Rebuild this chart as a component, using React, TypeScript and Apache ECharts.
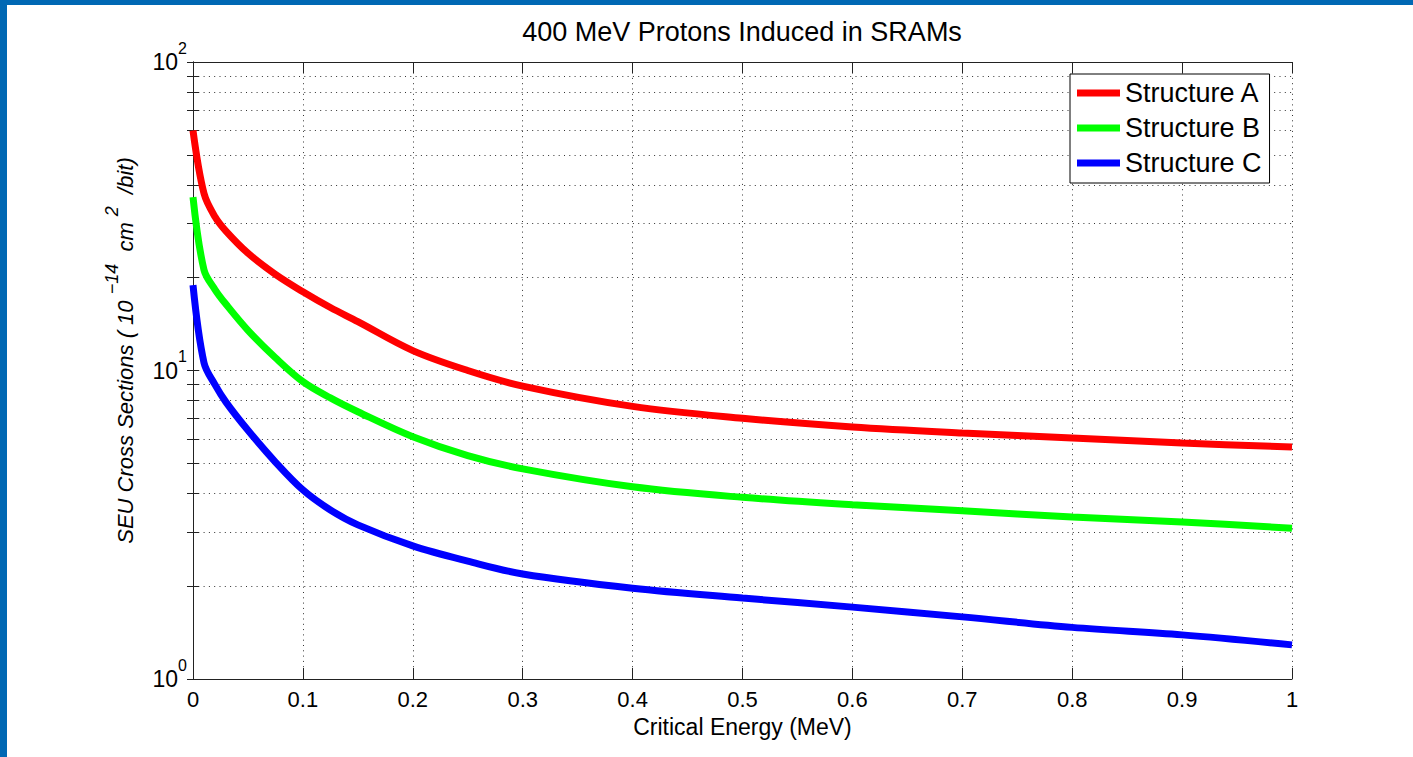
import React, { useEffect, useRef } from "react";
import * as echarts from "echarts";

const titleText = "400 MeV Protons Induced in SRAMs";
const xAxisTitle = "Critical Energy (MeV)";
const seriesNames = ["Structure A", "Structure B", "Structure C"];
const seriesColors = ["#ff0000", "#00ff00", "#0000ff"];

const criticalEnergy = [0, 0.01, 0.02, 0.03, 0.05, 0.075, 0.1, 0.125, 0.15, 0.2, 0.25, 0.3, 0.4, 0.5, 0.6, 0.7, 0.8, 0.9, 1.0];
const structureA = [60, 37.5, 31.5, 28.3, 24.0, 20.5, 18.0, 16.0, 14.4, 11.6, 10.0, 8.9, 7.65, 7.0, 6.56, 6.27, 6.04, 5.82, 5.65];
const structureB = [36.5, 21.2, 18.3, 16.4, 13.5, 11.0, 9.2, 8.15, 7.35, 6.1, 5.3, 4.8, 4.2, 3.88, 3.67, 3.51, 3.35, 3.23, 3.08];
const structureC = [18.9, 10.6, 9.0, 7.9, 6.4, 5.05, 4.1, 3.53, 3.16, 2.7, 2.41, 2.19, 1.97, 1.83, 1.71, 1.59, 1.47, 1.39, 1.29];

const FONT = "'Liberation Sans', Arial, Helvetica, sans-serif";
const dotted = { type: [1, 4.3] as number[], color: "#333", width: 1 };

export default function App() {
  const ref = useRef<HTMLDivElement>(null);
  useEffect(() => {
    if (!ref.current) return;
    const chart = echarts.init(ref.current, null, { renderer: "svg" });
    const allSeries = [structureA, structureB, structureC];
    const option: any = {
      animation: false,
      backgroundColor: "#ffffff",
      textStyle: { fontFamily: FONT, color: "#000" },
      title: {
        text: titleText,
        left: 742,
        top: 18,
        textAlign: "center",
        padding: 0,
        textStyle: { fontFamily: FONT, fontSize: 27, fontWeight: "normal", color: "#000" },
      },
      graphic: [
        { type: "rect", shape: { x: 0, y: 0, width: 1413, height: 5 }, style: { fill: "#0068b4" }, z: 100 },
        { type: "rect", shape: { x: 0, y: 0, width: 7, height: 757 }, style: { fill: "#0068b4" }, z: 100 },
      ],
      legend: {
        orient: "vertical",
        left: 1070,
        top: 74,
        padding: [5, 8, 6, 7],
        itemGap: 7,
        itemWidth: 43,
        itemHeight: 7,
        icon: "rect",
        borderColor: "#000",
        borderWidth: 1,
        backgroundColor: "#fff",
        textStyle: { fontFamily: FONT, fontSize: 27, lineHeight: 28, color: "#000" },
        data: seriesNames,
      },
      grid: { left: 193, top: 62, width: 1099, height: 617, outerBoundsMode: "none" },
      xAxis: [
        {
          type: "value",
          min: 0,
          max: 1,
          interval: 0.1,
          position: "bottom",
          name: xAxisTitle,
          nameLocation: "middle",
          nameGap: 36,
          nameTextStyle: { fontFamily: FONT, fontSize: 23, color: "#000" },
          axisLine: { show: true, lineStyle: { color: "#222", width: 1 } },
          axisTick: { show: true, inside: true, length: 11, lineStyle: { color: "#222" } },
          axisLabel: {
            fontFamily: FONT,
            fontSize: 22,
            color: "#000",
            margin: 9,
            formatter: (v: number) => String(Math.round(v * 10) / 10),
          },
          splitLine: { show: true, lineStyle: dotted },
        },
        {
          type: "value",
          min: 0,
          max: 1,
          interval: 0.1,
          position: "top",
          axisLine: { show: true, lineStyle: { color: "#222", width: 1 } },
          axisTick: { show: true, inside: true, length: 11, lineStyle: { color: "#222" } },
          axisLabel: { show: false },
          splitLine: { show: false },
        },
      ],
      yAxis: [
        {
          type: "log",
          logBase: 10,
          min: 1,
          max: 100,
          position: "left",
          name: "{n|SEU Cross Sections ( 10 }{s|\u221214}{n|  cm }{s|2}{n|  /bit)}",
          nameLocation: "middle",
          nameGap: 46,
          nameTextStyle: {
            fontFamily: FONT,
            fontStyle: "italic",
            fontSize: 22,
            color: "#000",
            padding: [0, 0, 0, 40],
            rich: {
              n: { fontFamily: FONT, fontStyle: "italic", fontSize: 22, lineHeight: 44, color: "#000" },
              s: { fontFamily: FONT, fontStyle: "italic", fontSize: 18, lineHeight: 12, verticalAlign: "top", color: "#000" },
            },
          },
          axisLine: { show: true, lineStyle: { color: "#222", width: 1 } },
          axisTick: { show: true, inside: true, length: 6, lineStyle: { color: "#222" } },
          minorTick: { show: true, splitNumber: 9, length: 6, lineStyle: { color: "#222" } },
          minorSplitLine: { show: true, lineStyle: dotted },
          splitLine: { show: true, lineStyle: dotted },
          axisLabel: {
            margin: 6,
            formatter: (v: number) => `{b|10}{s|${Math.round(Math.log10(v))}}`,
            rich: {
              b: { fontFamily: FONT, fontSize: 23, lineHeight: 44, color: "#000" },
              s: { fontFamily: FONT, fontSize: 16, lineHeight: 16, verticalAlign: "top", color: "#000" },
            },
          },
        },
        {
          type: "log",
          logBase: 10,
          min: 1,
          max: 100,
          position: "right",
          axisLine: { show: true, lineStyle: { color: "#222", width: 1 } },
          axisTick: { show: true, inside: true, length: 6, lineStyle: { color: "#222" } },
          minorTick: { show: true, splitNumber: 9, length: 6, lineStyle: { color: "#222" } },
          axisLabel: { show: false },
          splitLine: { show: false },
        },
      ],
      series: seriesNames.map((name, i) => ({
        name,
        type: "line",
        xAxisIndex: 0,
        yAxisIndex: 0,
        showSymbol: false,
        symbol: "none",
        smooth: 0.35,
        color: seriesColors[i],
        lineStyle: { width: 7, color: seriesColors[i] },
        data: criticalEnergy.map((x, j) => [x, allSeries[i][j]]),
      })),
    };
    chart.setOption(option);
    return () => chart.dispose();
  }, []);
  return (
    <div
      ref={ref}
      style={{ position: "absolute", left: 0, top: 0, width: 1413, height: 757, background: "#fff" }}
    />
  );
}
